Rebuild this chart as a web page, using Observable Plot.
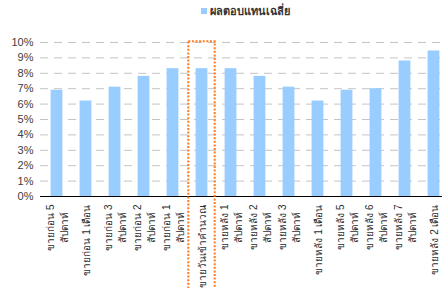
<!DOCTYPE html>
<html>
<head>
<meta charset="utf-8">
<script src="https://cdn.jsdelivr.net/npm/d3@7"></script>
<script src="https://cdn.jsdelivr.net/npm/@observablehq/plot@0.6"></script>
<style>
  html, body { margin: 0; padding: 0; background: #fff; }
  body { width: 442px; height: 288px; overflow: hidden; font-family: "Liberation Sans", Arial, sans-serif; }
  #legend { height: 28px; box-sizing: border-box; padding-left: 201px; padding-top: 8px; display: flex; align-items: center; height: 28px; }
  #legend .sw { width: 6px; height: 6px; background: #99CCFF; margin-right: 3px; margin-top: -14px; }
  #legend .lb { font-size: 11px; color: #333; font-weight: bold; margin-top: -14px; }
</style>
</head>
<body>
<div id="legend"><div class="sw"></div><div class="lb">ผลตอบแทนเฉลี่ย</div></div>
<div id="chart"></div>
<script>
const categories = [
  "ขายก่อน 5\nสัปดาห์", "ขายก่อน 1 เดือน", "ขายก่อน 3\nสัปดาห์", "ขายก่อน 2\nสัปดาห์",
  "ขายก่อน 1\nสัปดาห์", "ขายวันเข้าคำนวณ", "ขายหลัง 1\nสัปดาห์", "ขายหลัง 2\nสัปดาห์",
  "ขายหลัง 3\nสัปดาห์", "ขายหลัง 1 เดือน", "ขายหลัง 5\nสัปดาห์", "ขายหลัง 6\nสัปดาห์",
  "ขายหลัง 7\nสัปดาห์", "ขายหลัง 2 เดือน"
];
const values = [6.9, 6.2, 7.1, 7.8, 8.3, 8.3, 8.3, 7.8, 7.1, 6.2, 6.9, 7.0, 8.8, 9.45];
const yTicks = [0, 1, 2, 3, 4, 5, 6, 7, 8, 9, 10];
const highlight = "ขายวันเข้าคำนวณ";

const data = categories.map((c, i) => ({cat: c, v: values[i]}));

const chart = Plot.plot({
  width: 442,
  height: 260,
  marginTop: 14,
  marginBottom: 92,
  marginLeft: 40,
  marginRight: 0,
  style: {fontFamily: "'Liberation Sans', Arial, sans-serif", fontSize: "11px", color: "#404040", overflow: "visible"},
  x: {domain: categories, range: [40.4, 448.6], padding: 0},
  y: {domain: [0, 10]},
  marks: [
    Plot.ruleY(yTicks.filter(d => d > 0), {stroke: "#c4c4c4", strokeWidth: 1, strokeDasharray: "8,6"}),
    Plot.barY(data, {x: "cat", y: "v", fill: "#99CCFF", insetLeft: 8.6, insetRight: 8.6}),
    Plot.ruleY([0], {stroke: "#000", strokeWidth: 1.2}),
    Plot.axisY({ticks: yTicks, tickFormat: d => d + "%", tickSize: 0, tickPadding: 7, label: null, fontSize: 11}),
    Plot.axisX({tickRotate: -90, tickSize: 0, tickPadding: 8, label: null, fontSize: 10, lineHeight: 1.4, fill: "#303030"})
  ]
});
document.getElementById("chart").appendChild(chart);

// centre each wrapped line within its label block (block anchored below the axis)
d3.select(chart).selectAll("g[aria-label='x-axis tick label'] text").each(function() {
  const spans = d3.select(this).selectAll("tspan");
  if (spans.empty()) return;
  let maxW = 0;
  spans.each(function() { maxW = Math.max(maxW, this.getComputedTextLength()); });
  d3.select(this).attr("text-anchor", "middle");
  spans.attr("x", -maxW / 2);
});

// highlight box drawn from the plot's own scales
const xs = chart.scale("x"), ys = chart.scale("y");
const x0 = xs.apply(highlight), bw = xs.bandwidth;
d3.select(chart).append("rect")
  .attr("x", x0 + 1.3)
  .attr("y", ys.apply(10) - 0.8)
  .attr("width", bw - 2.6)
  .attr("height", 270)
  .attr("fill", "none")
  .attr("stroke", "#FF7A1A")
  .attr("stroke-width", 2)
  .attr("stroke-dasharray", "2,1.6");
</script>
</body>
</html>
